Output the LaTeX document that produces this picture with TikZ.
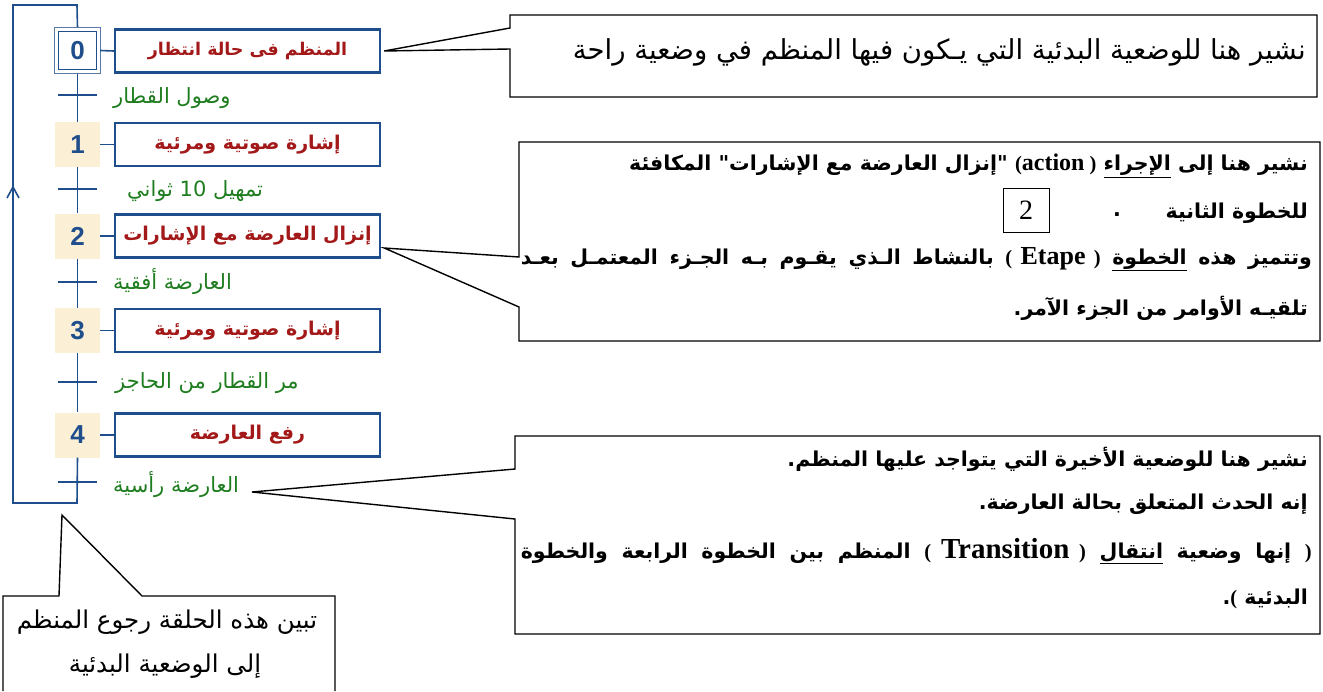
\documentclass[tikz,border=0pt]{standalone}
\usepackage{fontspec}
\setmainfont{Liberation Serif}
\newfontfamily\ar[Script=Arabic]{DejaVu Sans}
\newfontfamily\numfont{Liberation Sans}
\TeXXeTstate=1
\newcommand{\arline}[1]{\beginR #1\endR}
\newcommand{\latword}[2]{{\bfseries\fontsize{#1}{#1}\selectfont #2}}
\usetikzlibrary{arrows.meta}
\definecolor{gblue}{HTML}{1F4E8C}
\definecolor{gred}{HTML}{A31818}
\definecolor{ggreen}{HTML}{1E7D1E}
\definecolor{gcream}{HTML}{FBEFD6}
\tikzset{
  gline/.style={draw=gblue, line width=1.6pt},
  stepbox/.style={minimum width=45pt, minimum height=45pt, inner sep=0pt, fill=gcream, text=gblue, font=\numfont\bfseries\fontsize{26}{26}\selectfont},
  actbox/.style={draw=gblue, line width=2.4pt, fill=white, minimum width=265pt, minimum height=43pt, inner sep=0pt, text=gred, font=\ar\bfseries\fontsize{19}{22}\selectfont},
  translabel/.style={anchor=west, inner sep=0pt, text=ggreen, font=\ar\fontsize{21}{24}\selectfont},
  callout/.style={draw=black, line width=1.4pt, fill=white, line join=miter},
  ctext/.style={inner sep=0pt, font=\ar\fontsize{27.5}{30}\selectfont},
  ctextc/.style={inner sep=0pt, font=\ar\fontsize{24.5}{30}\selectfont},
  ctextb/.style={inner sep=0pt, anchor=east, font=\ar\bfseries\fontsize{20.5}{26}\selectfont},
}
\begin{document}
\begin{tikzpicture}[x=1pt,y=-1pt]
\useasboundingbox (0,0) rectangle (1323,691);

% ---------- GRAFCET ----------
\coordinate (t1) at (77,95);
\coordinate (t2) at (77,189);
\coordinate (t3) at (77,282);
\coordinate (t4) at (77,382);
\coordinate (t5) at (77,482);
\coordinate (lbot) at (77,503);
\coordinate (lbl) at (13,503);
\coordinate (ltl) at (13,5);
\coordinate (ltop) at (77,5);
\coordinate (larrow) at (13,187);

\node[stepbox, fill=white] (s0) at (77.5,50.5) {0};
\node[stepbox] (s1) at (77.5,144.5) {1};
\node[stepbox] (s2) at (77.5,236) {2};
\node[stepbox] (s3) at (77.5,330.5) {3};
\node[stepbox] (s4) at (77.5,435) {4};

% vertical links and loop
\draw[gline] (s0.south) -- (s1.north);
\draw[gline] (s1.south) -- (s2.north);
\draw[gline] (s2.south) -- (s3.north);
\draw[gline] (s3.south) -- (s4.north);
\draw[gline] (s4.south) -- (lbot) -- (lbl) -- (ltl) -- (ltop) -- (s0.north);
\draw[gline] (7,198) -- (larrow) -- (19,198);

% step 0 double frame
\draw[draw=gblue!75, line width=0.9pt] (s0.north west) rectangle (s0.south east);
\draw[draw=gblue, line width=1.2pt] ([shift={(4,4)}]s0.north west) rectangle ([shift={(-4,-4)}]s0.south east);

% transitions
\foreach \t in {t1,t2,t3,t4,t5}
  \draw[gline] ([xshift=-19pt]\t) -- ([xshift=20pt]\t);

% actions
\node[actbox] (a0) at (247.5,51) {\fontsize{17.5}{20}\selectfont\arline{المنظم فى حالة انتظار}};
\node[actbox] (a1) at (247.5,144.5) {\arline{إشارة صوتية ومرئية}};
\node[actbox] (a2) at (247.5,236) {\arline{إنزال العارضة مع الإشارات}};
\node[actbox] (a3) at (247.5,330.5) {\arline{إشارة صوتية ومرئية}};
\node[actbox] (a4) at (247.5,435) {\arline{رفع العارضة}};
\foreach \i in {0,...,4}
  \draw[gline] (s\i.east) -- (a\i.west);

% transition labels
\node[translabel] (l1) at (113,98) {\arline{وصول القطار}};
\node[translabel] (l2) at (127,191) {\arline{تمهيل 10 ثواني}};
\node[translabel] (l3) at (113,282) {\arline{العارضة أفقية}};
\node[translabel] (l4) at (115,383) {\arline{مر القطار من الحاجز}};
\node[translabel] (l5) at (113,485) {\arline{العارضة رأسية}};

% ---------- CALLOUTS ----------
\coordinate (tip1) at ([xshift=3pt]a0.east);
\coordinate (tip2) at ([shift={(3,12)}]a2.east);
\coordinate (tip3) at (252,492);
\coordinate (tip4) at (62,515);

\draw[callout] (510,15) -- (1317,15) -- (1317,97) -- (510,97) -- (510,49) -- (tip1) -- (510,28) -- cycle;
\draw[callout] (519,142) -- (1320,142) -- (1320,341) -- (519,341) -- (519,307) -- (tip2) -- (519,257) -- cycle;
\draw[callout] (515,436) -- (1320,436) -- (1320,634) -- (515,634) -- (515,519) -- (tip3) -- (515,469) -- cycle;
\draw[callout] (3,691) -- (3,596) -- (59,596) -- (tip4) -- (142,596) -- (335,596) -- (335,691);

% callout 1
\node[ctext, anchor=east] (c1) at (1306,52) {\arline{نشير هنا للوضعية البدئية التي يـكون فيها المنظم في وضعية راحة}};

% callout 2
\node[ctextb] (c2a) at (1308,166) {\arline{نشير هنا إلى \underline{الإجراء} {\beginL\rmfamily (\latword{24}{action} )\endL} "إنزال العارضة مع الإشارات" المكافئة}};
\node[ctextb] (c2b) at (1308,213) {\arline{للخطوة الثانية}};
\node[ctextb, anchor=center] (c2dot) at (1117,215) {.};
\node[draw=black, line width=0.9pt, minimum width=46pt, minimum height=44pt, inner sep=0pt, font=\rmfamily\fontsize{28}{28}\selectfont] (c2box) at (1026,210) {2};
\node[ctextb] (c2c) at (1312,259) {\makebox[791pt][s]{\arline{وتتميز هذه \underline{الخطوة} {\beginL\rmfamily ( \latword{26}{Etape} )\endL} بالنشاط الـذي يقـوم بـه الجـزء المعتمـل بعـد}}};
\node[ctextb] (c2d) at (1308,308) {\arline{تلقيـه الأوامر من الجزء الآمر.}};

% callout 3
\node[ctextb] (c3a) at (1308,459) {\arline{نشير هنا للوضعية الأخيرة التي يتواجد عليها المنظم.}};
\node[ctextb] (c3b) at (1308,504) {\arline{إنه الحدث المتعلق بحالة العارضة.}};
\node[ctextb] (c3c) at (1312,551) {\makebox[791pt][s]{\arline{{\rmfamily )} إنها وضعية \underline{انتقال} {\beginL\rmfamily ( \latword{29}{Transition} )\endL} المنظم بين الخطوة الرابعة والخطوة}}};
\node[ctextb] (c3d) at (1308,599) {\arline{البدئية {\rmfamily (}.}};

% callout 4
\node[ctextc] (c4a) at (167,622) {\arline{تبين هذه الحلقة رجوع المنظم}};
\node[ctextc] (c4b) at (165,666) {\arline{إلى الوضعية البدئية}};
\end{tikzpicture}
\end{document}
